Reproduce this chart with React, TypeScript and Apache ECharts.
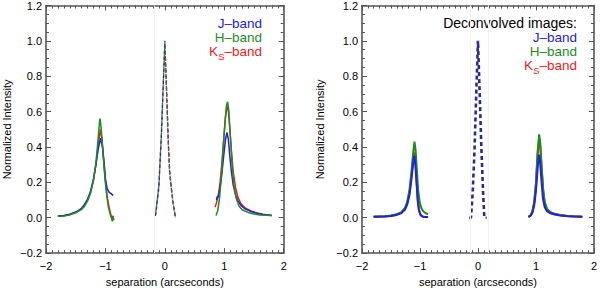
import React, { useEffect, useRef } from "react";
import * as echarts from "echarts";

// ---------- Data (x = separation in arcsec, y = normalized intensity) ----------
// Left panel (observed)
const obsJLeft = [[-1.80,0.010],[-1.70,0.013],[-1.60,0.020],[-1.50,0.032],[-1.45,0.042],[-1.40,0.055],[-1.35,0.075],[-1.30,0.105],[-1.25,0.150],[-1.20,0.220],[-1.16,0.300],[-1.12,0.390],[-1.08,0.450],[-1.05,0.400],[-1.02,0.300],[-1.00,0.220],[-0.97,0.165],[-0.94,0.145],[-0.90,0.135],[-0.87,0.125]];
const obsHLeft = [[-1.80,0.008],[-1.70,0.010],[-1.60,0.016],[-1.50,0.028],[-1.40,0.048],[-1.35,0.065],[-1.30,0.095],[-1.25,0.140],[-1.20,0.215],[-1.16,0.310],[-1.13,0.420],[-1.10,0.540],[-1.09,0.560],[-1.07,0.500],[-1.04,0.360],[-1.01,0.230],[-0.98,0.130],[-0.95,0.060],[-0.92,0.020],[-0.90,0.000],[-0.885,-0.020],[-0.87,0.010],[-0.86,-0.015]];
const obsKLeft = [[-1.80,0.009],[-1.70,0.011],[-1.60,0.018],[-1.50,0.030],[-1.40,0.050],[-1.30,0.100],[-1.25,0.145],[-1.20,0.215],[-1.16,0.300],[-1.12,0.410],[-1.085,0.500],[-1.06,0.450],[-1.03,0.330],[-1.00,0.210],[-0.97,0.120],[-0.94,0.060],[-0.91,0.020],[-0.89,0.000],[-0.875,0.010]];
const obsJCenter = [[-0.16,0.01],[-0.10,0.17],[-0.06,0.45],[-0.03,0.72],[0.00,1.00],[0.03,0.72],[0.06,0.42],[0.08,0.27],[0.11,0.17],[0.14,0.08],[0.18,0.00]];
const obsHCenter = [[-0.16,0.01],[-0.10,0.18],[-0.06,0.46],[-0.03,0.73],[0.00,0.99],[0.03,0.70],[0.06,0.40],[0.08,0.26],[0.11,0.16],[0.14,0.08],[0.18,-0.005]];
const obsKCenter = [[-0.15,0.02],[-0.10,0.20],[-0.06,0.46],[-0.03,0.72],[0.00,0.99],[0.03,0.70],[0.06,0.41],[0.08,0.26],[0.11,0.16],[0.14,0.08],[0.18,0.00]];
const obsJRight = [[0.87,0.100],[0.88,0.120],[0.90,0.115],[0.93,0.170],[0.96,0.250],[0.99,0.350],[1.02,0.440],[1.045,0.483],[1.07,0.440],[1.09,0.360],[1.12,0.260],[1.15,0.185],[1.19,0.130],[1.23,0.095],[1.28,0.070],[1.35,0.050],[1.45,0.035],[1.55,0.025],[1.65,0.018],[1.80,0.012]];
const obsHRight = [[0.86,0.012],[0.89,0.040],[0.92,0.110],[0.95,0.230],[0.98,0.390],[1.01,0.530],[1.035,0.630],[1.055,0.656],[1.075,0.610],[1.10,0.470],[1.13,0.310],[1.16,0.190],[1.20,0.110],[1.25,0.065],[1.30,0.045],[1.40,0.030],[1.50,0.021],[1.60,0.016],[1.80,0.012]];
const obsKRight = [[0.845,0.060],[0.87,0.085],[0.90,0.130],[0.93,0.200],[0.96,0.310],[0.99,0.440],[1.02,0.570],[1.045,0.630],[1.07,0.600],[1.09,0.520],[1.12,0.380],[1.15,0.260],[1.19,0.170],[1.23,0.115],[1.28,0.080],[1.35,0.055],[1.45,0.038],[1.55,0.027],[1.65,0.020],[1.80,0.012]];

// Right panel (deconvolved)
const decJLeft = [[-1.80,0.005],[-1.60,0.007],[-1.50,0.010],[-1.40,0.016],[-1.32,0.026],[-1.26,0.045],[-1.22,0.075],[-1.18,0.130],[-1.15,0.210],[-1.12,0.300],[-1.10,0.350],[-1.085,0.320],[-1.06,0.200],[-1.04,0.100],[-1.02,0.045],[-0.99,0.015],[-0.95,0.006],[-0.90,0.004],[-0.86,0.004]];
const decHLeft = [[-1.80,0.006],[-1.60,0.009],[-1.50,0.013],[-1.40,0.020],[-1.32,0.032],[-1.26,0.055],[-1.22,0.090],[-1.18,0.160],[-1.15,0.250],[-1.12,0.360],[-1.095,0.430],[-1.075,0.380],[-1.05,0.250],[-1.03,0.150],[-1.00,0.080],[-0.97,0.050],[-0.94,0.035],[-0.90,0.025],[-0.86,0.020]];
const decKLeft = [[-1.80,0.005],[-1.60,0.008],[-1.50,0.011],[-1.40,0.018],[-1.32,0.029],[-1.26,0.050],[-1.22,0.082],[-1.18,0.145],[-1.15,0.230],[-1.12,0.320],[-1.095,0.370],[-1.075,0.320],[-1.055,0.190],[-1.035,0.090],[-1.01,0.035],[-0.98,0.012],[-0.94,0.005],[-0.90,0.004]];
const decCenter = [[-0.15,0.0],[-0.12,0.0],[-0.09,0.15],[-0.06,0.38],[-0.03,0.70],[0.00,1.00],[0.03,0.70],[0.06,0.38],[0.09,0.13],[0.11,0.0],[0.15,0.0]];
const decJRight = [[0.87,0.004],[0.91,0.012],[0.94,0.030],[0.97,0.070],[1.00,0.150],[1.03,0.280],[1.05,0.357],[1.07,0.320],[1.095,0.210],[1.12,0.110],[1.15,0.060],[1.19,0.037],[1.25,0.025],[1.32,0.018],[1.42,0.013],[1.55,0.009],[1.65,0.007],[1.80,0.005]];
const decHRight = [[0.87,0.005],[0.91,0.015],[0.94,0.038],[0.97,0.090],[1.00,0.200],[1.03,0.380],[1.055,0.471],[1.075,0.420],[1.10,0.280],[1.125,0.160],[1.15,0.090],[1.19,0.050],[1.25,0.032],[1.32,0.022],[1.42,0.015],[1.55,0.010],[1.65,0.008],[1.80,0.006]];
const decKRight = [[0.87,0.005],[0.91,0.014],[0.94,0.035],[0.97,0.085],[1.00,0.190],[1.03,0.360],[1.055,0.450],[1.075,0.400],[1.10,0.270],[1.125,0.150],[1.15,0.085],[1.19,0.048],[1.25,0.030],[1.32,0.021],[1.42,0.014],[1.55,0.010],[1.65,0.008],[1.80,0.006]];

// faint guide lines
const leftGuides = [-0.17];
const rightGuides = [-0.13, 0.17];

// axis ticks
const xTicks = { min: -2, max: 2, interval: 1 };
const yTicks = { min: -0.2, max: 1.2, interval: 0.2 };

const bandLabels = ["J\u2013band", "H\u2013band", "K"];
const deconvTitle = "Deconvolved images:";
const xName = "separation (arcseconds)";
const yName = "Normalized Intensity";

const BLUE = "#2222dd";
const GREEN = "#1e8c1e";
const RED = "#ee1c1c";
const NAVY = "#2a2a96";
const AXIS = "#555555";
const FONT = "'Liberation Sans', Arial, Helvetica, sans-serif";
const LEG = 13.5;

const minus = (s: string) => s.replace("-", "\u2212");

function xAxisOf(gridIndex: number, position: "bottom" | "top") {
  const bottom = position === "bottom";
  return {
    type: "value",
    gridIndex,
    position,
    ...xTicks,
    name: bottom ? xName : "",
    nameLocation: "middle",
    nameGap: 19,
    nameTextStyle: { fontSize: 11, color: "#000", fontFamily: FONT },
    axisLine: { show: true, onZero: false, lineStyle: { color: AXIS, width: 1.6 } },
    axisTick: { show: true, inside: true, length: 5, lineStyle: { color: AXIS, width: 1 } },
    minorTick: { show: true, splitNumber: 10, length: 3, lineStyle: { color: AXIS, width: 1 } },
    splitLine: { show: false },
    minorSplitLine: { show: false },
    axisLabel: bottom
      ? { show: true, margin: 7, fontSize: 11, color: "#000", fontFamily: FONT, formatter: (v: number) => minus(String(Math.round(v))) }
      : { show: false },
  };
}

function yAxisOf(gridIndex: number, position: "left" | "right", gap: number) {
  const left = position === "left";
  return {
    type: "value",
    gridIndex,
    position,
    ...yTicks,
    name: left ? yName : "",
    nameLocation: "middle",
    nameGap: gap,
    nameRotate: 90,
    nameTextStyle: { fontSize: 11, color: "#000", fontFamily: FONT },
    axisLine: { show: true, onZero: false, lineStyle: { color: AXIS, width: 1.6 } },
    axisTick: { show: true, inside: true, length: 5, lineStyle: { color: AXIS, width: 1 } },
    minorTick: { show: true, splitNumber: 4, length: 3, lineStyle: { color: AXIS, width: 1 } },
    splitLine: { show: false },
    minorSplitLine: { show: false },
    axisLabel: left
      ? {
          show: true, margin: 4, fontSize: 11, color: "#000", fontFamily: FONT,
          formatter: (v: number) => (Math.abs(v) < 1e-9 ? "0.0" : minus(v.toFixed(1))),
        }
      : { show: false },
  };
}

function line(data: number[][], color: string, xAxisIndex: number, yAxisIndex: number, width: number, dash?: number[], dashOffset = 0) {
  return {
    type: "line",
    data,
    xAxisIndex,
    yAxisIndex,
    symbol: "none",
    smooth: false,
    silent: true,
    lineStyle: { color, width, type: dash ? dash : "solid", dashOffset },
  };
}

function guides(values: number[], xAxisIndex: number, yAxisIndex: number) {
  return {
    type: "line",
    data: [],
    xAxisIndex,
    yAxisIndex,
    silent: true,
    markLine: {
      silent: true,
      symbol: "none",
      label: { show: false },
      lineStyle: { color: "#f0f0f0", width: 1, type: "solid" },
      data: values.map((v) => ({ xAxis: v })),
    },
  };
}

function bandText(y: number, right: number) {
  const base = { fontSize: LEG, fontFamily: FONT, align: "right", verticalAlign: "middle" };
  return [
    { type: "text", x: right, y, style: { ...base, text: bandLabels[0], fill: BLUE } },
    { type: "text", x: right, y: y + LEG, style: { ...base, text: bandLabels[1], fill: GREEN } },
    {
      type: "text",
      x: right,
      y: y + 2 * LEG + 1,
      style: {
        ...base,
        text: "{k|" + bandLabels[2] + "}{s|S}{k|\u2013band}",
        fill: RED,
        rich: {
          k: { fontSize: LEG, lineHeight: LEG, verticalAlign: "top", fill: RED, fontFamily: FONT },
          s: { fontSize: 9.5, lineHeight: 9.5, verticalAlign: "top", padding: [6.5, 0, 0, 0], fill: RED, fontFamily: FONT },
        },
      },
    },
  ];
}

export default function App() {
  const ref = useRef<HTMLDivElement>(null);
  useEffect(() => {
    document.body.style.margin = "0";
    if (!ref.current) return;
    const chart = echarts.init(ref.current, null, { renderer: "svg" });
    const option = {
      animation: false,
      backgroundColor: "#ffffff",
      textStyle: { fontFamily: FONT },
      grid: [
        { left: 45.7, top: 3.6, width: 238, height: 258.3, containLabel: false },
        { left: 362, top: 3.6, width: 232, height: 258.3, containLabel: false },
      ],
      xAxis: [xAxisOf(0, "bottom"), xAxisOf(0, "top"), xAxisOf(1, "bottom"), xAxisOf(1, "top")],
      yAxis: [yAxisOf(0, "left", 34), yAxisOf(0, "right", 0), yAxisOf(1, "left", 37), yAxisOf(1, "right", 0)],
      series: [
        guides(leftGuides, 0, 0),
        guides(rightGuides, 2, 2),
        // left panel
        line(obsKCenter, RED, 0, 0, 1.3, [3, 3], 1),
        line(obsJCenter, BLUE, 0, 0, 1.3, [3, 3], 0),
        line(obsHCenter, GREEN, 0, 0, 1.3, [3, 3], 3),
        line(obsKLeft, RED, 0, 0, 1.5),
        line(obsJLeft, BLUE, 0, 0, 1.5),
        line(obsHLeft, GREEN, 0, 0, 1.5),
        line(obsKRight, RED, 0, 0, 1.5),
        line(obsJRight, BLUE, 0, 0, 1.5),
        line(obsHRight, GREEN, 0, 0, 1.5),
        // right panel
        line(decKLeft, RED, 2, 2, 2),
        line(decHLeft, GREEN, 2, 2, 2),
        line(decJLeft, BLUE, 2, 2, 2),
        line(decKRight, RED, 2, 2, 2),
        line(decHRight, GREEN, 2, 2, 2),
        line(decJRight, BLUE, 2, 2, 2),
        line(decCenter, NAVY, 2, 2, 2.6, [4, 3], 0),
      ],
      graphic: [
        ...bandText(23.5, 262),
        { type: "text", x: 577, y: 23, style: { text: deconvTitle, fontSize: 14, fontFamily: FONT, fill: "#000", align: "right", verticalAlign: "middle" } },
        ...bandText(37.5, 577),
      ],
    };
    chart.setOption(option as any);
    return () => chart.dispose();
  }, []);
  return <div ref={ref} style={{ width: 600, height: 292, position: "fixed", left: 0, top: 0, background: "#fff" }} />;
}
